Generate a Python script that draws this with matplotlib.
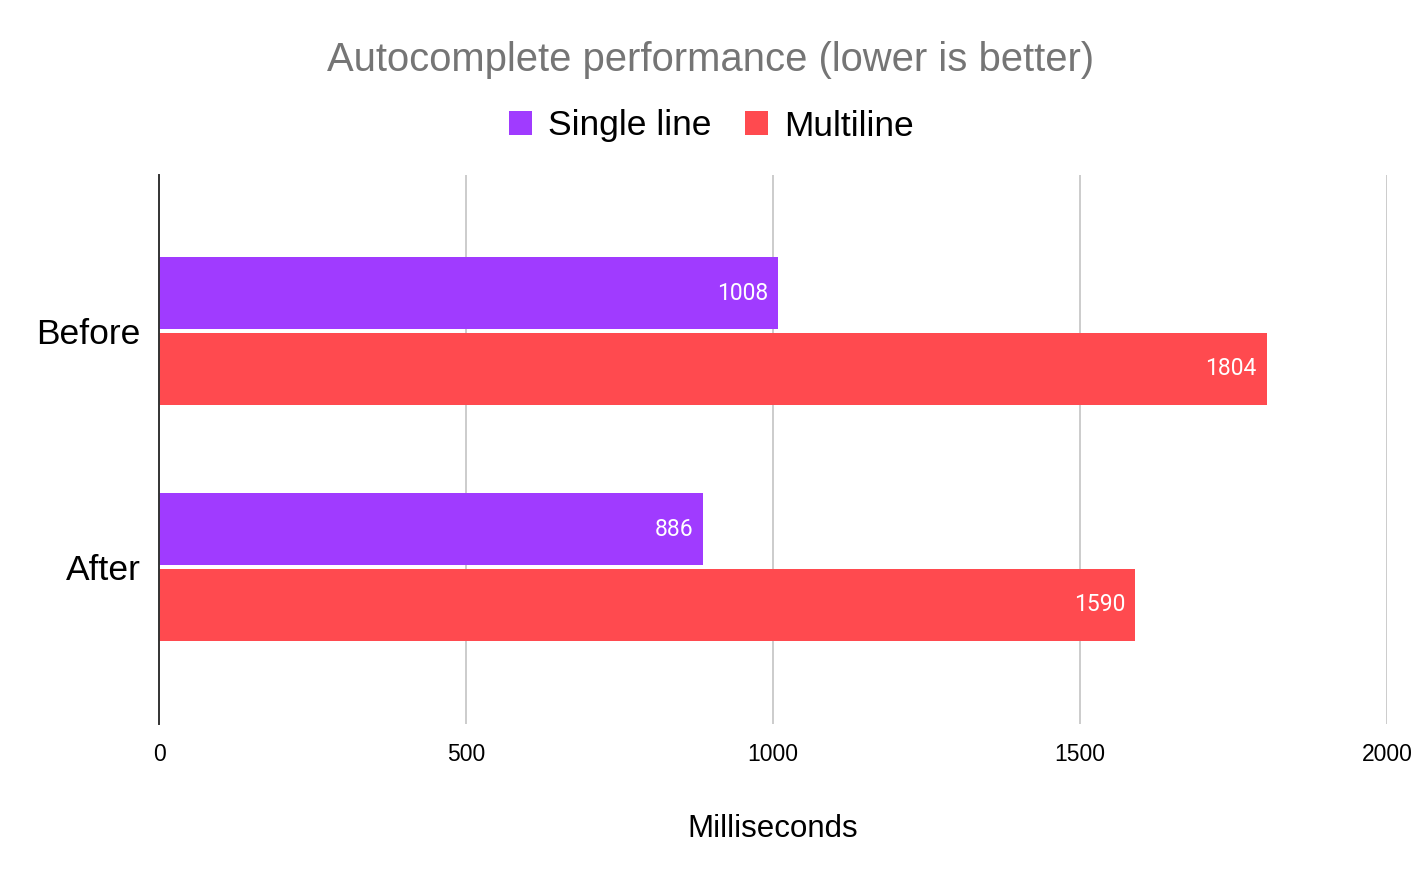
import numpy as np
import matplotlib
matplotlib.use("Agg")
import matplotlib.pyplot as plt
from matplotlib.patches import Patch

categories = ["Before", "After"]
series_names = ["Single line", "Multiline"]
single_line = [1008, 886]
multiline = [1804, 1590]
xticks = [0, 500, 1000, 1500, 2000]

purple = "#a03bff"
red = "#ff4a4f"

plt.rcParams['font.family'] = ['Liberation Sans', 'DejaVu Sans']

fig = plt.figure(figsize=(14.26, 8.82), dpi=100)
ax = fig.add_axes([159 / 1426, 1 - 724 / 882, (1387 - 159) / 1426, (724 - 175) / 882])

y = np.arange(len(categories))
h = 0.305
off = 0.16
b1 = ax.barh(y - off, single_line, height=h, color=purple, zorder=3)
b2 = ax.barh(y + off, multiline, height=h, color=red, zorder=3)

# labels de valeurs dans les barres
for bars, vals in ((b1, single_line), (b2, multiline)):
    for bar, v in zip(bars, vals):
        ax.annotate(str(v), (v, bar.get_y() + bar.get_height() / 2),
                    xytext=(-7, 0), textcoords="offset points",
                    ha="right", va="center", color="white",
                    fontsize=16.5, family=['Roboto', 'DejaVu Sans'], zorder=4)

ax.set_xlim(0, 2000)
ax.set_ylim(1.665, -0.661)
ax.set_xticks(xticks)
ax.set_xticklabels([str(t) for t in xticks], fontsize=16.5)
ax.set_yticks(y)
ax.set_yticklabels(categories, fontsize=25.5)
ax.tick_params(axis="x", length=0, pad=14)
ax.tick_params(axis="y", length=0, pad=13)
ax.xaxis.grid(True, color="#cccccc", linewidth=1.4, zorder=0)

for s in ("top", "right", "bottom"):
    ax.spines[s].set_visible(False)
ax.spines["left"].set_color("#333333")
ax.spines["left"].set_linewidth(1.4)
ax.spines["left"].set_zorder(5)

ax.set_xlabel("Milliseconds", fontsize=22.5, labelpad=34)

fig.text(711 / 1426, 1 - 60 / 882, "Autocomplete performance (lower is better)",
         ha="center", va="center", fontsize=28.8, color="#757575")

handles = [Patch(facecolor=purple), Patch(facecolor=red)]
fig.legend(handles, series_names, loc="center", bbox_to_anchor=(711 / 1426, 1 - 126 / 882),
           ncol=2, frameon=False, fontsize=25.5, handlelength=0.65, handleheight=0.65,
           handletextpad=0.45, columnspacing=0.95)

plt.savefig("out.png", dpi=100)
plt.close()
